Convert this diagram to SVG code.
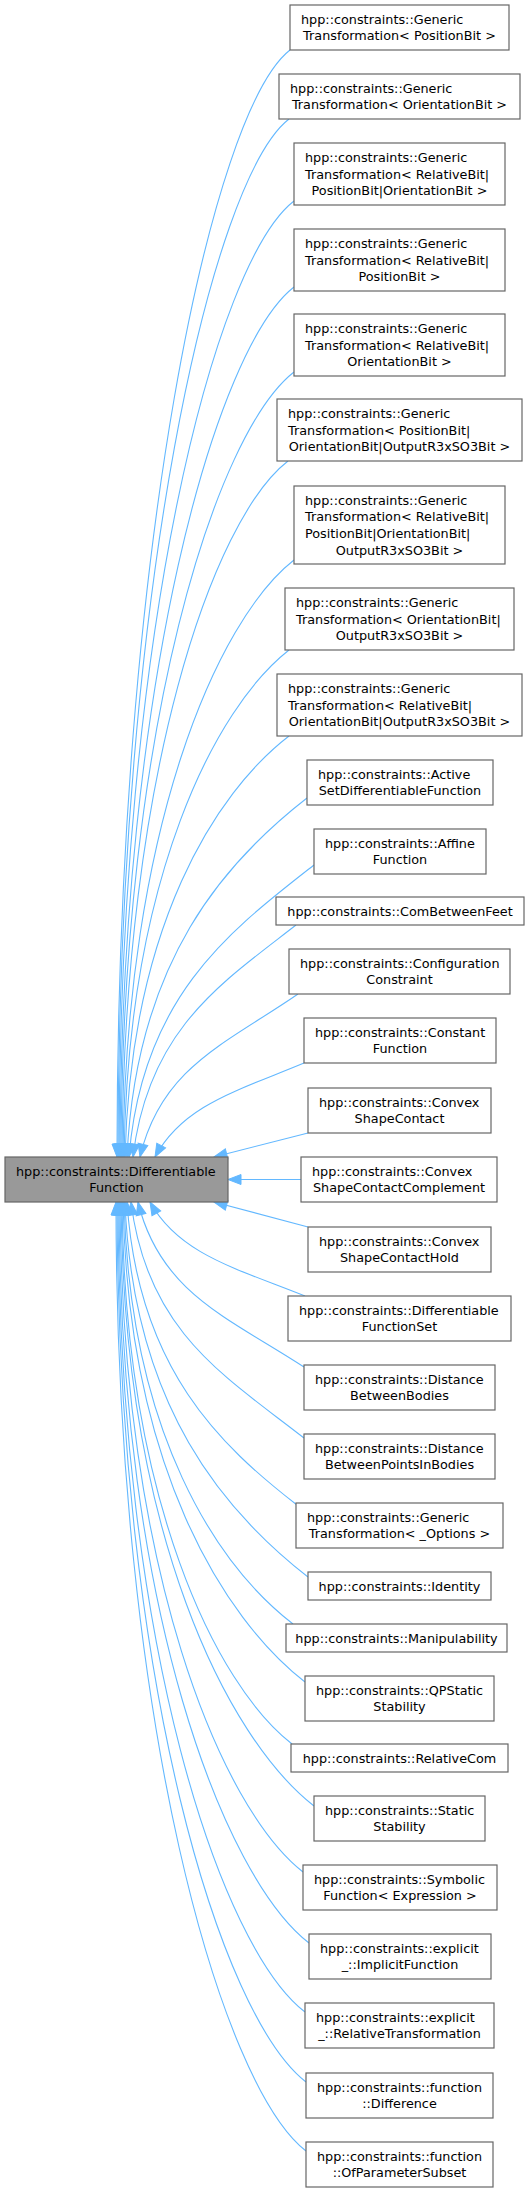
<svg xmlns="http://www.w3.org/2000/svg" width="529" height="2193" viewBox="0 0 529 2193">
<style>
rect{fill:#fff;stroke:#666;stroke-width:1.2}
#main rect{fill:#999}
text{font-family:"DejaVu Sans",sans-serif;font-size:12.8px;fill:#000}
.l{text-anchor:start}.c{text-anchor:middle}
#edges path{fill:none;stroke:#63b8ff;stroke-width:1.1;marker-end:url(#arr)}
</style>
<defs>
<marker id="arr" markerUnits="userSpaceOnUse" markerWidth="16" markerHeight="12" refX="13" refY="5" orient="auto" overflow="visible"><path d="M0,0 L13,5 L0,10 z" fill="#63b8ff" stroke="#63b8ff" stroke-width="1"/></marker>
</defs>
<rect x="0" y="0" width="529" height="2193" style="fill:#fff;stroke:none"/>
<g id="edges">
<path d="M290,50 C212,111 117,548 117,1157"/>
<path d="M289,119 C212,179 118,586 118,1157"/>
<path d="M294,201 C215,262 119,631 119,1157"/>
<path d="M294,287 C216,348 121,679 120,1157"/>
<path d="M294,372 C216,433 122,725 121,1157"/>
<path d="M288,461 C213,519 124,774 122,1157"/>
<path d="M294,560 C217,620 126,829 123,1157"/>
<path d="M289,650 C215,708 128,878 124,1157"/>
<path d="M289,736 C215,793 131,926 125,1157"/>
<path d="M307,798 C226,861 136,960 127,1157"/>
<path d="M314,865 C231,930 142,996 129,1157"/>
<path d="M296,925 C223,982 148,1029 133,1157"/>
<path d="M298,994 C227,1043 161,1067 140,1157"/>
<path d="M304,1063 C237,1091 183,1105 155,1157"/>
<path d="M308,1133 L214,1157"/>
<path d="M301,1179.5 L228,1179.5"/>
<path d="M308,1227 L214,1202"/>
<path d="M305,1296 C235,1268 179,1254 150,1202"/>
<path d="M304,1367 C229,1318 160,1293 138,1202"/>
<path d="M304,1438 C226,1377 147,1332 131,1202"/>
<path d="M297,1505 C221,1446 138,1369 127,1202"/>
<path d="M308,1577 C226,1513 133,1408 125,1202"/>
<path d="M293,1624 C217,1565 130,1434 124,1202"/>
<path d="M305,1682 C223,1618 128,1466 123,1202"/>
<path d="M292,1744 C216,1685 125,1500 122,1202"/>
<path d="M314,1806 C227,1738 124,1534 121,1202"/>
<path d="M303,1872 C221,1808 122,1571 120,1202"/>
<path d="M309,1943 C224,1877 120,1610 119,1202"/>
<path d="M305,2012 C221,1947 119,1648 118,1202"/>
<path d="M306,2082 C221,2016 118,1686 117,1202"/>
<path d="M306,2151 C221,2085 116,1724 116,1202"/>
</g>
<g id="main"><rect x="5" y="1157" width="223" height="45"/><text class="l" x="16" y="1175.7">hpp::constraints::Differentiable</text><text class="c" x="116.5" y="1192.3">Function</text></g>
<g id="n1"><rect x="290" y="5" width="219" height="45"/><text class="l" x="301" y="23.7">hpp::constraints::Generic</text><text class="c" x="399.5" y="40.3">Transformation&lt; PositionBit &gt;</text></g>
<g id="n2"><rect x="279" y="74" width="241" height="45"/><text class="l" x="290" y="92.7">hpp::constraints::Generic</text><text class="c" x="399.5" y="109.3">Transformation&lt; OrientationBit &gt;</text></g>
<g id="n3"><rect x="294" y="143" width="211" height="62"/><text class="l" x="305" y="161.8">hpp::constraints::Generic</text><text class="l" x="305" y="178.5">Transformation&lt; RelativeBit|</text><text class="c" x="399.5" y="195.2">PositionBit|OrientationBit &gt;</text></g>
<g id="n4"><rect x="294" y="229" width="211" height="62"/><text class="l" x="305" y="247.8">hpp::constraints::Generic</text><text class="l" x="305" y="264.5">Transformation&lt; RelativeBit|</text><text class="c" x="399.5" y="281.2">PositionBit &gt;</text></g>
<g id="n5"><rect x="294" y="314" width="211" height="62"/><text class="l" x="305" y="332.8">hpp::constraints::Generic</text><text class="l" x="305" y="349.5">Transformation&lt; RelativeBit|</text><text class="c" x="399.5" y="366.2">OrientationBit &gt;</text></g>
<g id="n6"><rect x="277" y="399" width="245" height="62"/><text class="l" x="288" y="417.8">hpp::constraints::Generic</text><text class="l" x="288" y="434.5">Transformation&lt; PositionBit|</text><text class="c" x="399.5" y="451.2">OrientationBit|OutputR3xSO3Bit &gt;</text></g>
<g id="n7"><rect x="294" y="486" width="211" height="78"/><text class="l" x="305" y="504.5">hpp::constraints::Generic</text><text class="l" x="305" y="521.2">Transformation&lt; RelativeBit|</text><text class="l" x="305" y="537.8">PositionBit|OrientationBit|</text><text class="c" x="399.5" y="554.5">OutputR3xSO3Bit &gt;</text></g>
<g id="n8"><rect x="285" y="588" width="229" height="62"/><text class="l" x="296" y="606.8">hpp::constraints::Generic</text><text class="l" x="296" y="623.5">Transformation&lt; OrientationBit|</text><text class="c" x="399.5" y="640.2">OutputR3xSO3Bit &gt;</text></g>
<g id="n9"><rect x="277" y="674" width="245" height="62"/><text class="l" x="288" y="692.8">hpp::constraints::Generic</text><text class="l" x="288" y="709.5">Transformation&lt; RelativeBit|</text><text class="c" x="399.5" y="726.2">OrientationBit|OutputR3xSO3Bit &gt;</text></g>
<g id="n10"><rect x="307" y="760" width="186" height="45"/><text class="l" x="318" y="778.7">hpp::constraints::Active</text><text class="c" x="400" y="795.3">SetDifferentiableFunction</text></g>
<g id="n11"><rect x="314" y="829" width="172" height="45"/><text class="l" x="325" y="847.7">hpp::constraints::Affine</text><text class="c" x="400" y="864.3">Function</text></g>
<g id="n12"><rect x="276" y="897" width="248" height="28"/><text class="c" x="400" y="915.5">hpp::constraints::ComBetweenFeet</text></g>
<g id="n13"><rect x="289" y="949" width="221" height="45"/><text class="l" x="300" y="967.7">hpp::constraints::Configuration</text><text class="c" x="399.5" y="984.3">Constraint</text></g>
<g id="n14"><rect x="304" y="1018" width="192" height="45"/><text class="l" x="315" y="1036.7">hpp::constraints::Constant</text><text class="c" x="400" y="1053.3">Function</text></g>
<g id="n15"><rect x="308" y="1088" width="183" height="45"/><text class="l" x="319" y="1106.7">hpp::constraints::Convex</text><text class="c" x="399.5" y="1123.3">ShapeContact</text></g>
<g id="n16"><rect x="301" y="1157" width="196" height="45"/><text class="l" x="312" y="1175.7">hpp::constraints::Convex</text><text class="c" x="399" y="1192.3">ShapeContactComplement</text></g>
<g id="n17"><rect x="308" y="1227" width="183" height="45"/><text class="l" x="319" y="1245.7">hpp::constraints::Convex</text><text class="c" x="399.5" y="1262.3">ShapeContactHold</text></g>
<g id="n18"><rect x="288" y="1296" width="223" height="45"/><text class="l" x="299" y="1314.7">hpp::constraints::Differentiable</text><text class="c" x="399.5" y="1331.3">FunctionSet</text></g>
<g id="n19"><rect x="304" y="1365" width="191" height="45"/><text class="l" x="315" y="1383.7">hpp::constraints::Distance</text><text class="c" x="399.5" y="1400.3">BetweenBodies</text></g>
<g id="n20"><rect x="304" y="1434" width="191" height="45"/><text class="l" x="315" y="1452.7">hpp::constraints::Distance</text><text class="c" x="399.5" y="1469.3">BetweenPointsInBodies</text></g>
<g id="n21"><rect x="296" y="1503" width="207" height="45"/><text class="l" x="307" y="1521.7">hpp::constraints::Generic</text><text class="c" x="399.5" y="1538.3">Transformation&lt; _Options &gt;</text></g>
<g id="n22"><rect x="308" y="1572" width="183" height="28"/><text class="c" x="399.5" y="1590.5">hpp::constraints::Identity</text></g>
<g id="n23"><rect x="286" y="1624" width="221" height="28"/><text class="c" x="396.5" y="1642.5">hpp::constraints::Manipulability</text></g>
<g id="n24"><rect x="305" y="1676" width="189" height="45"/><text class="l" x="316" y="1694.7">hpp::constraints::QPStatic</text><text class="c" x="399.5" y="1711.3">Stability</text></g>
<g id="n25"><rect x="291" y="1744" width="217" height="28"/><text class="c" x="399.5" y="1762.5">hpp::constraints::RelativeCom</text></g>
<g id="n26"><rect x="314" y="1796" width="171" height="45"/><text class="l" x="325" y="1814.7">hpp::constraints::Static</text><text class="c" x="399.5" y="1831.3">Stability</text></g>
<g id="n27"><rect x="303" y="1865" width="194" height="45"/><text class="l" x="314" y="1883.7">hpp::constraints::Symbolic</text><text class="c" x="400" y="1900.3">Function&lt; Expression &gt;</text></g>
<g id="n28"><rect x="309" y="1934" width="182" height="45"/><text class="l" x="320" y="1952.7">hpp::constraints::explicit</text><text class="c" x="400" y="1969.3">_::ImplicitFunction</text></g>
<g id="n29"><rect x="305" y="2003" width="189" height="45"/><text class="l" x="316" y="2021.7">hpp::constraints::explicit</text><text class="c" x="399.5" y="2038.3">_::RelativeTransformation</text></g>
<g id="n30"><rect x="306" y="2073" width="187" height="45"/><text class="l" x="317" y="2091.7">hpp::constraints::function</text><text class="c" x="399.5" y="2108.3">::Difference</text></g>
<g id="n31"><rect x="306" y="2142" width="187" height="45"/><text class="l" x="317" y="2160.7">hpp::constraints::function</text><text class="c" x="399.5" y="2177.3">::OfParameterSubset</text></g>
</svg>
